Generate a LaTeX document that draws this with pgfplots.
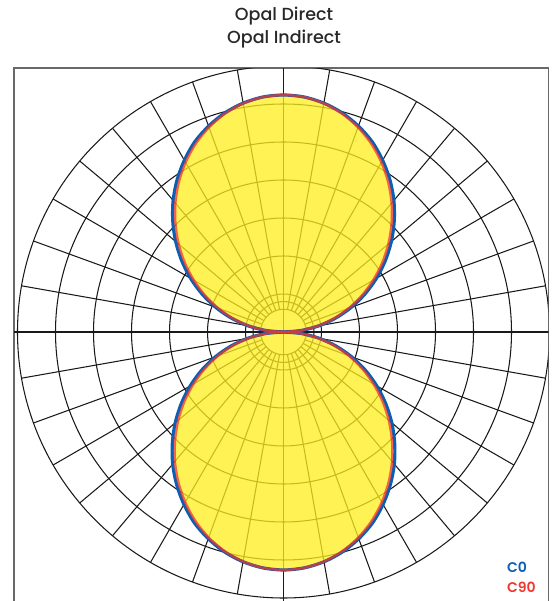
\documentclass[border=0pt]{standalone}
\usepackage{pgfplots}
\pgfplotsset{compat=1.18}
\usepackage{pgfplotstable}
\usepackage{fontspec}
\setmainfont{Poppins}
\newfontfamily\titlefont{Poppins Medium}
\newfontfamily\legfont{Poppins SemiBold}
\definecolor{cblue}{RGB}{10,95,180}
\definecolor{cred}{RGB}{240,55,45}
\definecolor{fillyel}{RGB}{255,238,30}
\definecolor{framegray}{RGB}{105,105,105}
\definecolor{titlegray}{RGB}{40,40,40}
\tikzset{gridl/.style={black!90, line width=1.05pt}}

% a = polar angle within a lobe (0..180); r in px-units
\pgfplotstableread{
a    c0up   c90up  c0dn   c90dn
0    0      0      0      0
5    18.1   17.3   18.2   17.4
10   36.2   34.7   36.3   34.8
15   54.3   52.0   54.5   52.2
20   72.2   69.3   72.5   69.6
25   89.9   86.5   90.3   86.8
30   107.3  103.5  107.7  103.9
35   124.3  120.4  124.8  120.9
40   140.8  136.9  141.4  137.4
45   156.6  152.8  157.2  153.4
50   171.7  168.2  172.4  168.9
55   185.6  182.6  186.3  183.3
60   198.3  195.8  199.1  196.6
65   209.9  207.7  210.7  208.5
70   219.1  217.8  220.0  218.7
75   226.8  226.0  227.7  226.9
80   232.4  232.1  233.3  233.0
85   235.9  235.8  236.8  236.7
90   237.0  237.0  238.0  238.0
95   235.9  235.8  236.8  236.7
100  232.4  232.1  233.3  233.0
105  226.8  226.0  227.7  226.9
110  219.1  217.8  220.0  218.7
115  209.9  207.7  210.7  208.5
120  198.3  195.8  199.1  196.6
125  185.6  182.6  186.3  183.3
130  171.7  168.2  172.4  168.9
135  156.6  152.8  157.2  153.4
140  140.8  136.9  141.4  137.4
145  124.3  120.4  124.8  120.9
150  107.3  103.5  107.7  103.9
155  89.9   86.5   90.3   86.8
160  72.2   69.3   72.5   69.6
165  54.3   52.0   54.5   52.2
170  36.2   34.7   36.3   34.8
175  18.1   17.3   18.2   17.4
180  0      0      0      0
}\lobes

\begin{document}
\begin{tikzpicture}
\useasboundingbox (0,0) rectangle (553pt,601pt);
\begin{axis}[
  at={(14pt,-2pt)}, anchor=south west,
  scale only axis,
  width=534.3pt, height=534.7pt,
  xmin=-269.5, xmax=264.8, ymin=-271, ymax=263.7,
  axis lines=box, ticks=none,
  axis line style={draw=framegray, line width=1.6pt},
  clip=true,
]
% polar grid
\pgfplotsinvokeforeach{22.8,30.4,38,76,114,152,190,228,266}{
  \draw[gridl] (0,0) circle[radius=#1];
}
\pgfplotsinvokeforeach{0,10,...,350}{
  \draw[gridl] ({22.8*cos(#1)},{22.8*sin(#1)}) -- ({266*cos(#1)},{266*sin(#1)});
}
\draw[gridl] (-300,0) -- (300,0);
\draw[gridl] (0,-300) -- (0,300);

% yellow fill (C90)
\addplot[data cs=polar, smooth, draw=none, fill=fillyel, fill opacity=0.76]
  table[x=a, y=c90up] {\lobes};
\addplot[data cs=polar, smooth, draw=none, fill=fillyel, fill opacity=0.76]
  table[x expr=\thisrow{a}+180, y=c90dn] {\lobes};
% C0 blue
\addplot[data cs=polar, smooth, draw=cblue, line width=3.2pt]
  table[x=a, y=c0up] {\lobes};
\addplot[data cs=polar, smooth, draw=cblue, line width=3.2pt]
  table[x expr=\thisrow{a}+180, y=c0dn] {\lobes};
% C90 red
\addplot[data cs=polar, smooth, draw=cred, draw opacity=0.75, line width=2.4pt]
  table[x=a, y=c90up] {\lobes};
\addplot[data cs=polar, smooth, draw=cred, draw opacity=0.75, line width=2.4pt]
  table[x expr=\thisrow{a}+180, y=c90dn] {\lobes};
\end{axis}

\node[anchor=base, text=titlegray, font=\titlefont\fontsize{17.5}{20}\selectfont] at (284pt,580pt) {Opal Direct};
\node[anchor=base, text=titlegray, font=\titlefont\fontsize{17.5}{20}\selectfont] at (284pt,557pt) {Opal Indirect};
\node[anchor=base west, inner sep=0pt, text=cblue, font=\legfont\fontsize{14}{16}\selectfont] at (507pt,28pt) {C0};
\node[anchor=base west, inner sep=0pt, text=cred, font=\legfont\fontsize{14}{16}\selectfont] at (507pt,9pt) {C90};
\end{tikzpicture}
\end{document}
